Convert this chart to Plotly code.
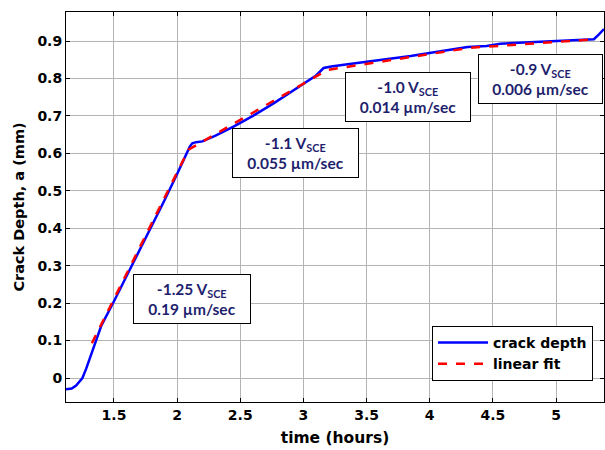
import plotly.graph_objects as go

# crack depth measurement (hours, mm)
time_h = [1.12, 1.165, 1.20, 1.22, 1.25, 1.28, 1.30, 1.34, 1.40, 1.50, 1.60, 1.70, 1.80,
          1.90, 2.00, 2.08, 2.10, 2.12, 2.15, 2.20, 2.30, 2.45, 2.60, 2.77, 2.90, 3.00,
          3.10, 3.16, 3.22, 3.35, 3.51, 3.70, 3.85, 4.01, 4.15, 4.30, 4.45, 4.56, 4.75,
          4.90, 5.05, 5.20, 5.30, 5.34, 5.38]
depth_mm = [-0.030, -0.028, -0.020, -0.013, 0.000, 0.025, 0.045, 0.085, 0.140, 0.205,
            0.272, 0.340, 0.410, 0.475, 0.545, 0.600, 0.618, 0.627, 0.630, 0.632, 0.647,
            0.672, 0.700, 0.735, 0.763, 0.785, 0.808, 0.828, 0.832, 0.838, 0.845, 0.852,
            0.860, 0.869, 0.876, 0.884, 0.887, 0.893, 0.896, 0.898, 0.900, 0.903, 0.905,
            0.918, 0.932]

# piecewise linear fit breakpoints
fit_t = [1.325, 2.09, 3.19, 4.32, 5.28]
fit_d = [0.093, 0.610, 0.823, 0.882, 0.904]

# annotation labels
ann_volt = ["-1.25", "-1.1", "-1.0", "-0.9"]
ann_rate = ["0.19", "0.055", "0.014", "0.006"]
ann_x = [2.115, 2.941, 3.830, 4.875]
ann_y = [0.211, 0.600, 0.751, 0.799]
ann_w = [106, 115, 114, 113]

x_ticks = [1.5, 2, 2.5, 3, 3.5, 4, 4.5, 5]
y_ticks = [0, 0.1, 0.2, 0.3, 0.4, 0.5, 0.6, 0.7, 0.8, 0.9]

fig = go.Figure()
fig.add_trace(go.Scatter(x=time_h, y=depth_mm, mode="lines", name="crack depth",
                         line=dict(color="#0000ff", width=2.5)))
fig.add_trace(go.Scatter(x=fit_t, y=fit_d, mode="lines", name="linear fit",
                         line=dict(color="#ff0000", width=2.5, dash="dash")))

navy = "#1f1f6e"
for v, r, x, y, w in zip(ann_volt, ann_rate, ann_x, ann_y, ann_w):
    fig.add_annotation(
        x=x, y=y, xref="x", yref="y", showarrow=False,
        text=f"<b>{v} V<sub>SCE</sub></b><br><b>{r} \u00b5m/sec</b>",
        font=dict(family="Lato", size=15.5, color=navy, weight="bold"),
        align="center", bgcolor="white", bordercolor="black", borderwidth=1,
        borderpad=5, width=w,
    )

axis_common = dict(
    showline=True, linecolor="black", linewidth=1, mirror="ticks",
    ticks="inside", ticklen=4, tickcolor="black", automargin=False,
    showgrid=True, gridcolor="#b4b4b4", gridwidth=1, zeroline=False,
    tickfont=dict(family="DejaVu Sans", size=14, color="black", weight="bold"),
)

fig.update_xaxes(range=[1.12, 5.38], tickvals=x_ticks,
                 title=dict(text="time (hours)", standoff=10,
                            font=dict(family="DejaVu Sans", size=15.5, color="black", weight="bold")),
                 **axis_common)
fig.update_yaxes(range=[-0.064, 0.9776], tickvals=y_ticks,
                 title=dict(text="Crack Depth, a (mm)", standoff=9,
                            font=dict(family="DejaVu Sans", size=14.5, color="black", weight="bold")),
                 **axis_common)

fig.update_layout(
    width=605, height=450,
    margin=dict(l=66, r=1, t=12, b=48, autoexpand=False),
    plot_bgcolor="white", paper_bgcolor="white",
    legend=dict(x=0.9796, y=0.195, xanchor="right", yanchor="top",
                bgcolor="white", bordercolor="black", borderwidth=1,
                font=dict(family="DejaVu Sans", size=14, color="black", weight="bold"),
                tracegroupgap=0, itemwidth=50),
    showlegend=True,
)

fig.write_html("out.html", config={"displayModeBar": False},
               post_script="document.body.style.margin='0';document.body.style.padding='0';")
